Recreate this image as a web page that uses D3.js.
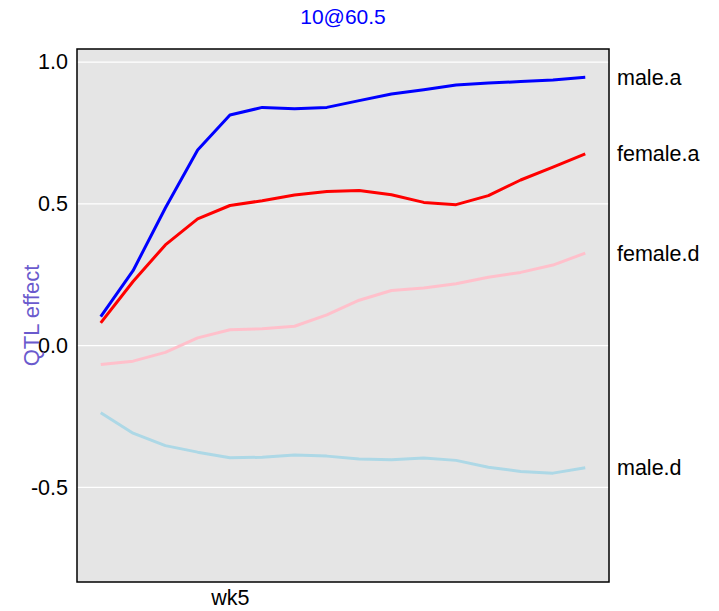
<!DOCTYPE html>
<html>
<head>
<meta charset="utf-8">
<script src="https://cdn.jsdelivr.net/npm/d3@7"></script>
<style>
  body { margin: 0; background: #fff; }
  text { font-family: "Liberation Sans", Arial, Helvetica, sans-serif; }
</style>
</head>
<body>
<svg id="chart" width="719" height="611"></svg>
<script>
const weeks = d3.range(1, 17);
const xTickWeeks = [5];
const xTickLabels = ["wk5"];
const yTicks = [-0.5, 0.0, 0.5, 1.0];
const yTickLabels = ["-0.5", "0.0", "0.5", "1.0"];
const seriesNames = ["male.a", "female.a", "female.d", "male.d"];
const seriesColors = ["#0000ff", "#ff0000", "#ffc0cb", "#add8e6"];
const maleA = [0.102, 0.264, 0.485, 0.690, 0.813, 0.840, 0.835, 0.840, 0.864, 0.887, 0.902, 0.919, 0.926, 0.931, 0.937, 0.946];
const femaleA = [0.080, 0.226, 0.355, 0.447, 0.494, 0.511, 0.531, 0.543, 0.547, 0.532, 0.505, 0.497, 0.529, 0.584, 0.629, 0.676];
const femaleD = [-0.067, -0.055, -0.024, 0.027, 0.056, 0.059, 0.068, 0.108, 0.160, 0.194, 0.203, 0.218, 0.241, 0.258, 0.284, 0.326];
const maleD = [-0.237, -0.309, -0.353, -0.376, -0.396, -0.394, -0.386, -0.390, -0.400, -0.403, -0.397, -0.405, -0.429, -0.444, -0.450, -0.431];
const seriesValues = [maleA, femaleA, femaleD, maleD];
const title = "10@60.5";
const yLabel = "QTL effect";

(function () {
const svg = d3.select("#chart");
const pL = 77, pR = 609, pT = 49, pB = 582;
const fs = 21.5;

const x = d3.scaleLinear().domain([0.265, 16.735]).range([pL, pR]);
const y = d3.scaleLinear().domain([-0.834, 1.046]).range([pB, pT]);

// panel background
svg.append("rect").attr("x", pL).attr("y", pT)
  .attr("width", pR - pL).attr("height", pB - pT)
  .attr("fill", "#e5e5e5");

// gridlines
svg.append("g").selectAll("line").data(yTicks).join("line")
  .attr("x1", pL).attr("x2", pR)
  .attr("y1", d => y(d)).attr("y2", d => y(d))
  .attr("stroke", "#ffffff").attr("stroke-width", 1.2);

// y axis labels
const yAxis = d3.axisLeft(y).tickValues(yTicks).tickFormat((d, i) => yTickLabels[i]).tickSize(0).tickPadding(9);
const yg = svg.append("g").attr("transform", `translate(${pL},0)`).call(yAxis);
yg.select(".domain").remove();
yg.selectAll("text").attr("font-size", fs).attr("fill", "#000")
  .style("font-family", "'Liberation Sans', Arial, sans-serif");

// x axis labels
const xAxis = d3.axisBottom(x).tickValues(xTickWeeks).tickFormat((d, i) => xTickLabels[i]).tickSize(0).tickPadding(8);
const xg = svg.append("g").attr("transform", `translate(0,${pB})`).call(xAxis);
xg.select(".domain").remove();
xg.selectAll("text").attr("font-size", fs).attr("fill", "#000")
  .style("font-family", "'Liberation Sans', Arial, sans-serif");

// lines
const line = d3.line().x((d, i) => x(weeks[i])).y(d => y(d));
svg.append("g").selectAll("path").data(seriesValues).join("path")
  .attr("d", d => line(d))
  .attr("fill", "none")
  .attr("stroke", (d, i) => seriesColors[i])
  .attr("stroke-width", 3)
  .attr("stroke-linejoin", "round");

// right labels
svg.append("g").selectAll("text").data(seriesValues).join("text")
  .attr("x", pR + 8)
  .attr("y", d => y(d[d.length - 1]))
  .attr("dy", "0.35em")
  .attr("font-size", fs)
  .attr("fill", "#000")
  .text((d, i) => seriesNames[i]);

// panel border
svg.append("rect").attr("x", pL).attr("y", pT)
  .attr("width", pR - pL).attr("height", pB - pT)
  .attr("fill", "none").attr("stroke", "#000").attr("stroke-width", 1.5);

// title
svg.append("text").attr("x", (pL + pR) / 2).attr("y", 17).attr("dy", "0.35em")
  .attr("text-anchor", "middle").attr("font-size", 21).attr("fill", "#0000ff")
  .text(title);

// y label
svg.append("text")
  .attr("transform", `translate(31,${(pT + pB) / 2}) rotate(-90)`)
  .attr("text-anchor", "middle").attr("dy", "0.35em")
  .attr("font-size", 22).attr("fill", "#6a5acd")
  .text(yLabel);
})();
</script>
</body>
</html>
